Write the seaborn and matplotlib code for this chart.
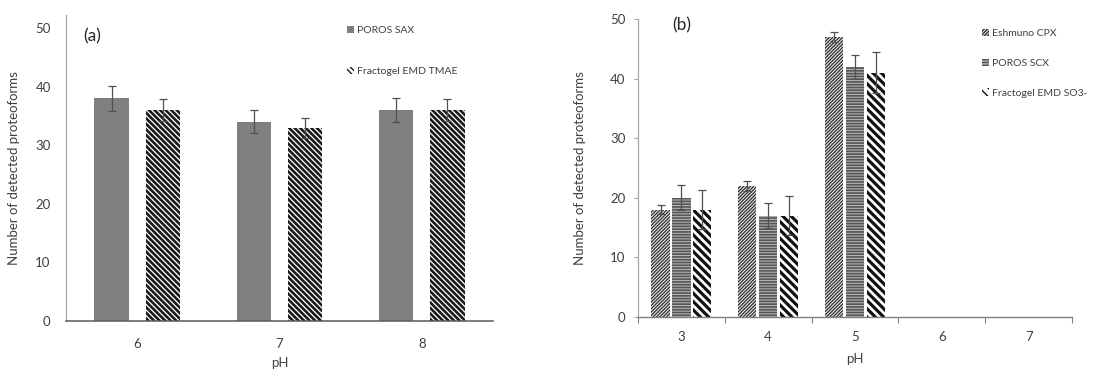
import matplotlib
matplotlib.use("Agg")
import matplotlib.pyplot as plt
import seaborn as sns
import pandas as pd
import numpy as np

# ---- data ----
a_ph = ["6", "7", "8"]
a_resins = ["POROS SAX", "Fractogel EMD TMAE"]
a_sax = [38, 34, 36]
a_sax_err = [2.1, 2.0, 2.0]
a_tmae = [36, 33, 36]
a_tmae_err = [1.8, 1.7, 1.8]

b_ph_axis = ["3", "4", "5", "6", "7"]
b_ph = ["3", "4", "5"]
b_resins = ["Eshmuno CPX", "POROS SCX", "Fractogel EMD SO3-"]
b_eshmuno = [18, 22, 47]
b_eshmuno_err = [0.8, 0.8, 0.8]
b_poros = [20, 17, 42]
b_poros_err = [2.1, 2.1, 2.0]
b_fracto = [18, 17, 41]
b_fracto_err = [3.3, 3.3, 3.4]

df_a = pd.DataFrame({
    "pH": a_ph * 2,
    "resin": [a_resins[0]] * 3 + [a_resins[1]] * 3,
    "value": a_sax + a_tmae,
})
err_a = [a_sax_err, a_tmae_err]
df_b = pd.DataFrame({
    "pH": b_ph * 3,
    "resin": [b_resins[0]] * 3 + [b_resins[1]] * 3 + [b_resins[2]] * 3,
    "value": b_eshmuno + b_poros + b_fracto,
})
err_b = [b_eshmuno_err, b_poros_err, b_fracto_err]

sns.set_theme(style="white")
plt.rcParams['font.family'] = ['Lato', 'DejaVu Sans']
TXT = "#404040"
FS = 9.5

fig = plt.figure(figsize=(11.05, 3.69), dpi=100)
W, H = 1105, 369

def axes_px(l, r, top, bottom):
    return fig.add_axes([l / W, 1 - bottom / H, (r - l) / W, (bottom - top) / H])

def style_patch(p, face, hatch, ec, hlw):
    p.set_facecolor(face)
    p.set_hatch(hatch)
    p.set_edgecolor(ec)
    p.set_linewidth(0)
    if hasattr(p, "set_hatch_linewidth"):
        p.set_hatch_linewidth(hlw)

# ---------------- panel (a) ----------------
ax1 = axes_px(66, 493, 15, 321)
sns.barplot(data=df_a, x="pH", y="value", hue="resin", order=a_ph,
            hue_order=a_resins, width=0.72, gap=0.333, errorbar=None,
            palette=["#808080", "white"], legend=False, ax=ax1)
styles_a = [("#808080", "", "#808080", 1.0), ("white", "\\" * 6, "#1a1a1a", 1.9)]
for cont, st, errs in zip(ax1.containers, styles_a, err_a):
    xs, hs = [], []
    for p in cont.patches:
        style_patch(p, *st)
        xs.append(p.get_x() + p.get_width() / 2)
        hs.append(p.get_height())
    ax1.errorbar(xs, hs, yerr=errs, fmt="none", ecolor="#505050",
                 elinewidth=0.9, capsize=3, capthick=0.9)
ax1.set_ylim(0, 52.2)
ax1.set_yticks(range(0, 51, 10))
ax1.set_xlim(-0.5, 2.5)
for s in ["top", "right"]:
    ax1.spines[s].set_visible(False)
ax1.spines["left"].set_color("#a6a6a6")
ax1.spines["left"].set_linewidth(0.9)
ax1.spines["bottom"].set_color("#595959")
ax1.spines["bottom"].set_linewidth(1.1)
ax1.tick_params(axis="y", length=0, pad=11, labelsize=FS, labelcolor=TXT)
ax1.tick_params(axis="x", length=0, pad=12, labelsize=FS, labelcolor=TXT)
ax1.set_xlabel("pH", fontsize=FS, color=TXT)
ax1.set_ylabel("Number of detected proteoforms", fontsize=FS, color=TXT)
ax1.xaxis.set_label_coords(0.5, -0.117)
ax1.yaxis.set_label_coords(-0.108, 0.5)
ax1.text(0.04, 0.93, "(a)", transform=ax1.transAxes, fontsize=12.5,
         color="#262626", va="center", ha="left")
leg1 = ax1.legend(ax1.containers, a_resins, loc="upper left",
                  bbox_to_anchor=(347 / W, 1 - 26 / H), bbox_transform=fig.transFigure,
                  frameon=False, fontsize=7.5, labelspacing=3.0, handlelength=0.7,
                  handleheight=0.7, handletextpad=0.3, borderpad=0, borderaxespad=0)
for t in leg1.get_texts():
    t.set_color(TXT)

# ---------------- panel (b) ----------------
ax2 = axes_px(638, 1072, 19, 317)
sns.barplot(data=df_b, x="pH", y="value", hue="resin", order=b_ph_axis,
            hue_order=b_resins, width=0.72, gap=0.125, errorbar=None,
            palette=["#707070", "#909090", "white"], legend=False, ax=ax2)
styles_b = [("#e6e6e6", "/" * 10, "#303030", 0.9),
            ("#b4b4b4", "-" * 6, "#555555", 1.2),
            ("white", "\\" * 4, "#111111", 2.3)]
for cont, st, errs in zip(ax2.containers, styles_b, err_b):
    xs, hs = [], []
    for p in cont.patches:
        style_patch(p, *st)
        xs.append(p.get_x() + p.get_width() / 2)
        hs.append(p.get_height())
    ax2.errorbar(xs, hs, yerr=errs, fmt="none", ecolor="#505050",
                 elinewidth=0.9, capsize=3, capthick=0.9)
ax2.set_ylim(0, 50)
ax2.set_yticks(range(0, 51, 10))
ax2.set_xlim(-0.5, 4.5)
ax2.set_xticks(np.arange(-0.5, 4.6, 1.0), minor=True)
for s in ["top", "right"]:
    ax2.spines[s].set_visible(False)
ax2.spines["left"].set_color("#a6a6a6")
ax2.spines["left"].set_linewidth(0.9)
ax2.spines["bottom"].set_color("#808080")
ax2.spines["bottom"].set_linewidth(1.0)
ax2.tick_params(axis="y", length=3, width=0.8, color="#a6a6a6", direction="out",
                left=True, pad=6, labelsize=FS, labelcolor=TXT)
ax2.tick_params(axis="x", which="major", length=0, pad=10, labelsize=FS, labelcolor=TXT)
ax2.tick_params(axis="x", which="minor", length=4, width=0.8, color="#808080",
                direction="out", bottom=True)
ax2.set_xlabel("pH", fontsize=FS, color=TXT)
ax2.set_ylabel("Number of detected proteoforms", fontsize=FS, color=TXT)
ax2.xaxis.set_label_coords(0.5, -0.121)
ax2.yaxis.set_label_coords(-0.12, 0.5)
ax2.text(0.08, 0.98, "(b)", transform=ax2.transAxes, fontsize=12.5,
         color="#262626", va="center", ha="left")
leg2 = ax2.legend(ax2.containers, b_resins, loc="upper left",
                  bbox_to_anchor=(982 / W, 1 - 29 / H), bbox_transform=fig.transFigure,
                  frameon=False, fontsize=7.5, labelspacing=1.95, handlelength=0.7,
                  handleheight=0.7, handletextpad=0.3, borderpad=0, borderaxespad=0)
for t in leg2.get_texts():
    t.set_color(TXT)

fig.savefig("out.png", dpi=100)
